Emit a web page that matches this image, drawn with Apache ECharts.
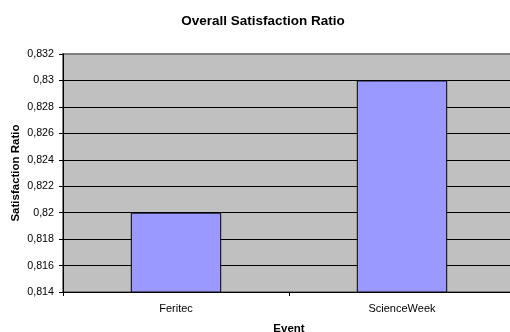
<!DOCTYPE html>
<html>
<head>
<meta charset="utf-8">
<script src="https://cdn.jsdelivr.net/npm/echarts@6/dist/echarts.min.js"></script>
<style>
  html, body { margin: 0; padding: 0; background: #fff; }
  #chart { width: 510px; height: 332px; }
</style>
</head>
<body>
<div id="chart"></div>
<script>
// Events and their overall satisfaction ratio
const events = ['Feritec', 'ScienceWeek'];
const satisfaction = [0.82, 0.83];

// Value axis range
const yMin = 0.814;
const yMax = 0.832;
const yStep = 0.002;

const fontFamily = '"Liberation Sans", Arial, sans-serif';

function fmt(v) {
  return String(parseFloat(v.toFixed(3))).replace('.', ',');
}

// one colour per split line: bottom hidden behind axis, top shown as grey frame
const nLines = Math.round((yMax - yMin) / yStep) + 1;
const lineColors = [];
for (let i = 0; i < nLines; i++) {
  lineColors.push(i === nLines - 1 ? '#808080' : '#000000');
}

const chart = echarts.init(document.getElementById('chart'), null, { renderer: 'canvas' });
chart.setOption({
  animation: false,
  backgroundColor: '#ffffff',
  title: {
    text: 'Overall Satisfaction Ratio',
    left: 258,
    textAlign: 'center',
    top: 9,
    textStyle: { fontFamily, fontSize: 13.5, fontWeight: 'bold', color: '#000' }
  },
  grid: {
    left: 63, right: -5, top: 54, bottom: 40,
    outerBoundsMode: 'none',
    containLabel: false,
    show: true,
    backgroundColor: '#c0c0c0',
    borderColor: '#808080',
    borderWidth: 2
  },
  xAxis: {
    type: 'category',
    data: events,
    name: 'Event',
    nameLocation: 'middle',
    nameGap: 31,
    nameMoveOverlap: false,
    nameTextStyle: { fontFamily, fontSize: 11.5, fontWeight: 'bold', color: '#000' },
    axisLine: { lineStyle: { color: '#000', width: 1 } },
    axisTick: { show: true, alignWithLabel: false, length: 4, lineStyle: { color: '#000' } },
    axisLabel: { fontFamily, fontSize: 11, color: '#000', margin: 11 },
    splitLine: { show: false }
  },
  yAxis: {
    type: 'value',
    min: yMin,
    max: yMax,
    interval: yStep,
    name: 'Satisfaction Ratio',
    nameLocation: 'middle',
    nameGap: 41,
    nameMoveOverlap: false,
    nameTextStyle: { fontFamily, fontSize: 11.5, fontWeight: 'bold', color: '#000' },
    axisLine: { show: true, lineStyle: { color: '#000', width: 1 } },
    axisTick: { show: true, length: 4, lineStyle: { color: '#000' } },
    axisLabel: { fontFamily, fontSize: 10.7, color: '#000', margin: 9, formatter: fmt },
    splitLine: { show: true, lineStyle: { color: lineColors, width: 1 } }
  },
  series: [{
    type: 'bar',
    data: satisfaction,
    barWidth: '40%',
    itemStyle: { color: '#9999ff', borderColor: '#000', borderWidth: 1 }
  }]
});
</script>
</body>
</html>
